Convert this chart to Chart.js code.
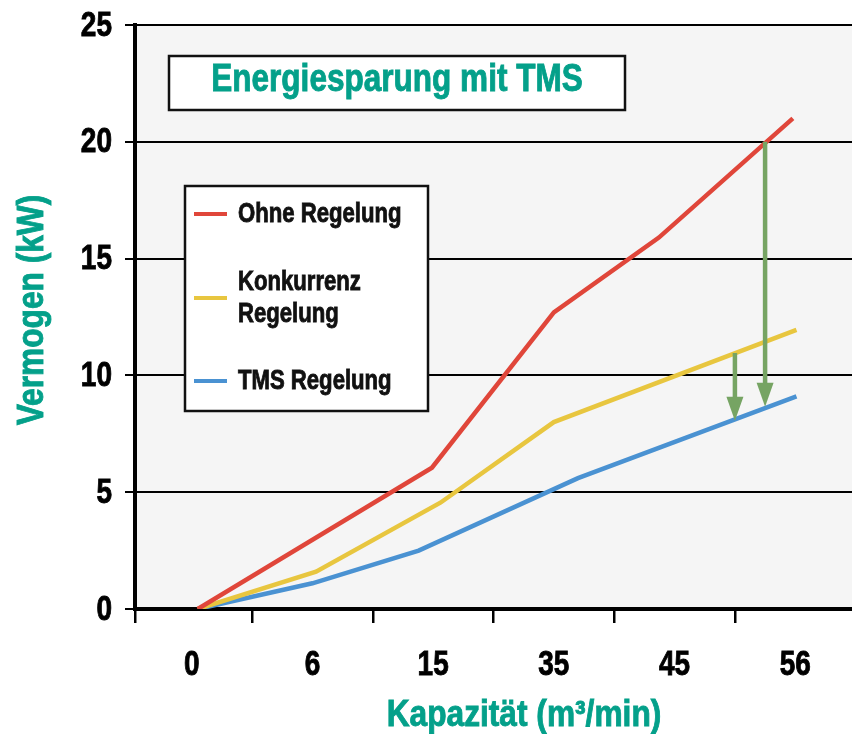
<!DOCTYPE html>
<html lang="de">
<head>
    <meta charset="UTF-8">
    <title>Energiesparung mit TMS</title>
    <script src="https://cdn.jsdelivr.net/npm/chart.js"></script>
    <style>
        body { margin: 0; background: #fff; }
        #wrap { width: 852px; height: 734px; }
    </style>
</head>
<body>
    <div id="wrap"><canvas id="energyChart"></canvas></div>

    <script>
        // x positions are category slots (0 = "0", 5 = "56")
        const capacityLabels = ['0', '6', '15', '35', '45', '56'];
        const yTicks = [0, 5, 10, 15, 20, 25];

        const ohneX = [0.05, 1.99, 3.0, 3.87, 4.98];
        const ohneY = [0, 6.05, 12.7, 15.9, 21.0];

        const konkX = [0.05, 1.03, 2.06, 3.0, 5.01];
        const konkY = [0, 1.6, 4.55, 8.0, 11.95];

        const tmsX = [0.05, 1.0, 1.88, 3.2, 5.01];
        const tmsY = [0, 1.1, 2.5, 5.6, 9.1];

        // savings arrows: slot position, start value, end value
        const arrowX = [4.75, 4.5];
        const arrowFrom = [20.0, 10.96];
        const arrowTo = [8.66, 8.06];

        const seriesNames = ['Ohne Regelung', 'Konkurrenz\nRegelung', 'TMS Regelung'];
        const seriesColors = ['#e0463a', '#e8c63f', '#4a92d2'];

        const FONT = "'Liberation Sans', Arial, sans-serif";
        const TEAL = '#04a08a';
        const GREEN = '#76a463';
        const X_MIN = -0.47, X_MAX = 5.47;

        const toPoints = (xs, ys) => xs.map((x, i) => ({ x: x, y: ys[i] }));

        // the reference uses a condensed face, so squeeze the text horizontally
        function squeezed(ctx, text, x, y, sx, align) {
            ctx.save();
            ctx.translate(x, y);
            ctx.scale(sx, 1);
            ctx.textAlign = align || 'center';
            ctx.textBaseline = 'middle';
            ctx.strokeStyle = ctx.fillStyle;
            ctx.lineWidth = 0.9;
            ctx.fillText(text, 0, 0);
            ctx.strokeText(text, 0, 0);
            ctx.restore();
        }

        const decorations = {
            id: 'decorations',
            beforeDraw(chart) {
                const { ctx, chartArea: a } = chart;
                ctx.save();
                ctx.fillStyle = '#f5f5f5';
                ctx.fillRect(a.left, a.top, a.right - a.left, a.bottom - a.top);
                ctx.restore();
            },
            beforeDatasetsDraw(chart) {
                const ctx = chart.ctx;
                ctx.save();
                ctx.lineWidth = 2.5;
                ctx.strokeStyle = '#111';
                ctx.fillStyle = '#fff';

                // title box
                ctx.fillRect(169, 56, 456, 54);
                ctx.strokeRect(169, 56, 456, 54);
                ctx.fillStyle = TEAL;
                ctx.font = 'bold 38px ' + FONT;
                squeezed(ctx, 'Energiesparung mit TMS', 397, 81, 0.83);

                // legend box
                ctx.fillStyle = '#fff';
                ctx.strokeStyle = '#111';
                ctx.lineWidth = 2.5;
                ctx.fillRect(185, 186, 243, 225);
                ctx.strokeRect(185, 186, 243, 225);
                const rows = [214, 298, 381];
                ctx.font = 'bold 28px ' + FONT;
                seriesNames.forEach((name, i) => {
                    ctx.strokeStyle = seriesColors[i];
                    ctx.lineWidth = 4;
                    ctx.beginPath();
                    ctx.moveTo(194, rows[i]);
                    ctx.lineTo(227, rows[i]);
                    ctx.stroke();
                    ctx.fillStyle = '#111';
                    const parts = name.split('\n');
                    parts.forEach((p, j) => {
                        const off = (j - (parts.length - 1) / 2) * 32;
                        squeezed(ctx, p, 238, rows[i] + off, 0.79, 'left');
                    });
                });
                ctx.restore();
            },
            afterDatasetsDraw(chart) {
                const { ctx, scales: { x, y } } = chart;
                ctx.save();
                ctx.strokeStyle = GREEN;
                ctx.fillStyle = GREEN;
                ctx.lineWidth = 4.5;
                arrowX.forEach((v, i) => {
                    const px = x.getPixelForValue(v);
                    const y0 = y.getPixelForValue(arrowFrom[i]);
                    const y1 = y.getPixelForValue(arrowTo[i]);
                    ctx.beginPath();
                    ctx.moveTo(px, y0);
                    ctx.lineTo(px, y1 - 20);
                    ctx.stroke();
                    ctx.beginPath();
                    ctx.moveTo(px - 8.5, y1 - 24);
                    ctx.lineTo(px + 8.5, y1 - 24);
                    ctx.lineTo(px, y1);
                    ctx.closePath();
                    ctx.fill();
                });
                ctx.restore();
            },
            afterDraw(chart) {
                const { ctx, scales: { x, y } } = chart;
                ctx.save();
                ctx.fillStyle = '#000';
                ctx.font = 'bold 35px ' + FONT;
                capacityLabels.forEach((lab, i) => {
                    squeezed(ctx, lab, x.getPixelForValue(i), 665, 0.8);
                });
                yTicks.forEach(v => {
                    squeezed(ctx, String(v), 112, y.getPixelForValue(v) + 1, 0.8, 'right');
                });

                // axis titles
                ctx.fillStyle = TEAL;
                ctx.font = 'bold 36px ' + FONT;
                squeezed(ctx, 'Kapazität (m³/min)', 524, 716, 0.88);
                ctx.translate(33, 310);
                ctx.rotate(-Math.PI / 2);
                squeezed(ctx, 'Vermogen (kW)', 0, 0, 0.88);
                ctx.restore();
            }
        };

        const ctx = document.getElementById('energyChart').getContext('2d');
        const chart = new Chart(ctx, {
            type: 'line',
            data: {
                datasets: [
                    { label: 'Ohne Regelung', data: toPoints(ohneX, ohneY), borderColor: seriesColors[0] },
                    { label: 'Konkurrenz Regelung', data: toPoints(konkX, konkY), borderColor: seriesColors[1] },
                    { label: 'TMS Regelung', data: toPoints(tmsX, tmsY), borderColor: seriesColors[2] }
                ]
            },
            options: {
                responsive: true,
                maintainAspectRatio: false,
                animation: false,
                layout: { padding: { left: 125, right: 0, top: 25, bottom: 111 } },
                elements: {
                    line: { borderWidth: 4.5, tension: 0, borderCapStyle: 'butt' },
                    point: { radius: 0 }
                },
                plugins: {
                    legend: { display: false },
                    tooltip: { enabled: false }
                },
                scales: {
                    x: {
                        type: 'linear',
                        min: X_MIN,
                        max: X_MAX,
                        afterBuildTicks: s => {
                            const t = [{ value: X_MIN }];
                            for (let v = 0.5; v < 5; v += 1) t.push({ value: v });
                            s.ticks = t;
                        },
                        border: { color: '#000', width: 4 },
                        grid: {
                            drawOnChartArea: false,
                            tickLength: 14,
                            lineWidth: 2.5,
                            tickColor: '#000'
                        },
                        ticks: { display: false }
                    },
                    y: {
                        min: 0,
                        max: 25,
                        afterBuildTicks: s => { s.ticks = yTicks.map(v => ({ value: v })); },
                        border: { color: '#000', width: 4 },
                        grid: {
                            color: '#000',
                            lineWidth: 2,
                            tickLength: 10
                        },
                        ticks: { display: false }
                    }
                }
            },
            plugins: [decorations]
        });
    </script>
</body>
</html>
